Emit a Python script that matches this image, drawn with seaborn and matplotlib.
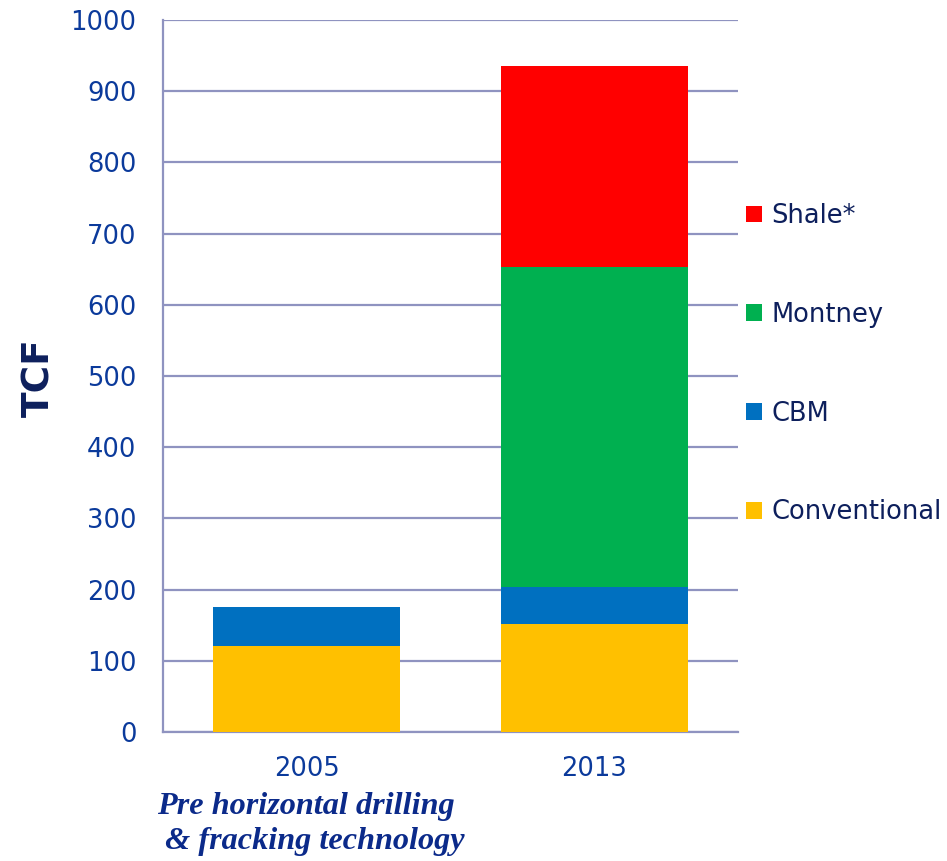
import pandas as pd
import numpy as np
import matplotlib.pyplot as plt
import seaborn as sns
from matplotlib.patches import Patch

sns.set_theme(style="white")
plt.rcParams['font.family'] = ['DejaVu Sans']

# data (TCF)
years = ['2005', '2013']
series = ['Conventional', 'CBM', 'Montney', 'Shale*']
conventional = [121, 152]
cbm = [55, 51]
montney = [0, 450]
shale = [0, 282]
colors = ['#FFC000', '#0070C0', '#00B050', '#FF0000']

values = np.array([conventional, cbm, montney, shale])
tops = values.cumsum(axis=0)

fig = plt.figure(figsize=(9.47, 8.61), dpi=100)
ax = fig.add_axes([0.1721, 0.1498, 0.6072, 0.827])

# stacked bars: draw cumulative tops from the highest series down
for i in range(len(series) - 1, -1, -1):
    df = pd.DataFrame({'Year': years, 'TCF': tops[i]})
    sns.barplot(data=df, x='Year', y='TCF', color=colors[i], width=0.65,
                linewidth=0, saturation=1, ax=ax, zorder=3)

grid_col = '#8F93C0'
ax.set_ylim(0, 1000)
ax.set_xlim(-0.5, 1.5)
ax.set_yticks(range(0, 1001, 100))
ax.yaxis.grid(True, color=grid_col, linewidth=1.6, zorder=0)
ax.set_axisbelow(True)
for s in ['top', 'right']:
    ax.spines[s].set_visible(False)
for s in ['left', 'bottom']:
    ax.spines[s].set_color(grid_col)
    ax.spines[s].set_linewidth(1.6)

tick_col = '#0B3A9B'
ax.tick_params(axis='y', length=0, pad=19, labelsize=18.5, labelcolor=tick_col)
ax.tick_params(axis='x', length=0, pad=17, labelsize=18.5, labelcolor=tick_col)
ax.set_xlabel('')
ax.set_ylabel('')
fig.text(0.042, 0.561, 'TCF', rotation=90, fontsize=27, fontweight='bold',
         color='#0D1F5C', ha='center', va='center')

handles = [Patch(facecolor=colors[i], edgecolor='none', label=series[i])
           for i in range(len(series) - 1, -1, -1)]
leg = fig.legend(handles=handles, loc='center left', bbox_to_anchor=(0.788, 0.577),
                 frameon=False, fontsize=18.5, handlelength=0.62, handleheight=0.62,
                 handletextpad=0.35, labelspacing=2.83, borderpad=0, borderaxespad=0)
for t in leg.get_texts():
    t.set_color('#0D1F5C')

fig.text(0.166, 0.043, 'Pre horizontal drilling\n & fracking technology',
         family=['Liberation Serif', 'DejaVu Serif'], style='italic', weight='bold',
         fontsize=23.2, color='#0B2A8A', ha='left', va='center', linespacing=1.25)

fig.savefig('out.png', dpi=100)
